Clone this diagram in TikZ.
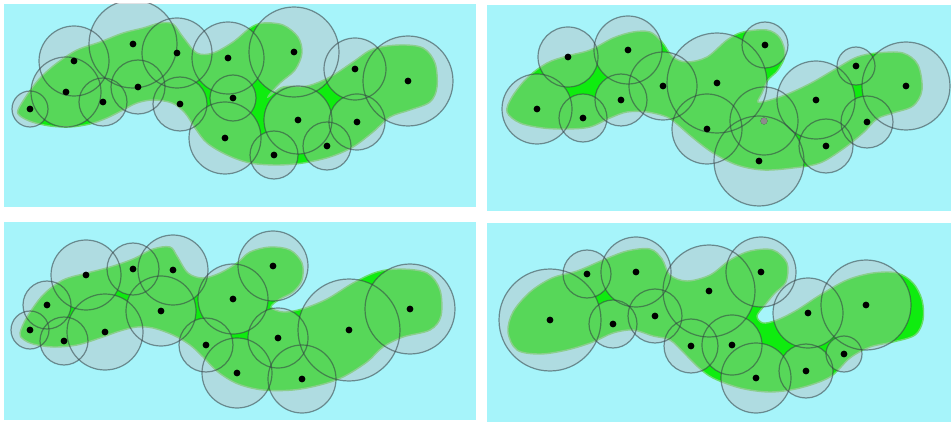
\documentclass[tikz,border=0pt]{standalone}
\usepackage{tikz}

\definecolor{sky}{RGB}{166,244,250}
\definecolor{blobgreen}{RGB}{15,236,15}
\definecolor{blobedge}{RGB}{105,220,105}
\definecolor{ballgray}{RGB}{188,188,192}
\definecolor{ballrim}{RGB}{50,62,66}

% one panel: corner, corner, skin outline, balls x/y/r
\newcommand{\molpanel}[4]{%
  \begin{scope}
    \clip #1 rectangle #2;
    \fill[panel] #1 rectangle #2;
    \draw[blob] plot[smooth cycle,tension=0.55] coordinates {#3};
    \begin{scope}[transparency group,opacity=0.42]
      \foreach \cx/\cy/\cr in {#4} \fill[ballgray] (\cx,\cy) circle[radius=\cr pt];
    \end{scope}
    \foreach \cx/\cy/\cr in {#4} \draw[ballrim] (\cx,\cy) circle[radius=\cr pt];
    \foreach \cx/\cy/\cr in {#4} \fill[atom] (\cx,\cy) circle[radius=3.4pt];
  \end{scope}}

\begin{document}
\begin{tikzpicture}[
  x=1pt,y=-1pt,
  panel/.style={fill=sky},
  blob/.style={fill=blobgreen,draw=blobedge,line width=1.4pt},
  ballrim/.style={draw=ballrim,line width=1.2pt,draw opacity=0.55},
  atom/.style={fill=black},
]
\useasboundingbox[fill=white] (0,0) rectangle (951,422);

% top left
\molpanel{(4,4)}{(476,207)}
  {(18,110) (27,95) (40,78) (57,63) (77,50) (100,42) (123,33) (143,28) (160,23)
   (173,24) (183,37) (197,53) (213,53) (233,42) (250,28) (263,23) (283,25)
   (298,37) (302,53) (295,70) (280,83) (268,97) (283,87) (307,86) (330,77)
   (353,62) (373,49) (400,45) (423,48) (435,63) (437,87) (430,102) (410,110)
   (390,117) (373,132) (353,147) (330,157) (303,163) (277,165) (250,163)
   (227,155) (207,143) (195,128) (185,113) (172,103) (153,100) (137,103)
   (123,110) (107,118) (90,124) (70,127) (50,126) (32,122) (20,116)}
  {30/109/18, 74/61/35, 66/92/35, 103/102/24, 133/44/44, 138/87/27, 177/53/35,
   180/104/27, 228/58/36, 233/98/23, 225/138/36, 294/52/45, 274/155/24,
   298/120/34, 355/69/31, 357/122/28, 327/146/24, 408/81/45}

% top right
\molpanel{(487,5)}{(951,211)}
  {(507,112) (512,97) (527,78) (547,63) (567,56) (590,50) (613,38) (633,32)
   (650,32) (662,42) (673,57) (687,62) (707,57) (727,40) (743,32) (767,30)
   (780,38) (785,55) (778,70) (768,80) (762,93) (758,102) (770,100) (790,93)
   (813,82) (837,68) (857,57) (877,53) (903,53) (918,65) (922,90) (913,106)
   (893,113) (877,119) (863,133) (843,149) (820,163) (793,168) (763,170)
   (737,165) (713,153) (693,138) (678,125) (667,117) (647,112) (627,112)
   (610,118) (590,127) (567,129) (543,128) (520,123)}
  {537/109/35, 568/57/30, 583/118/24, 628/50/34, 621/100/26, 663/86/34,
   717/83/50, 765/45/23, 707/129/35, 764/121/34, 759/161/45, 816/100/39,
   826/146/27, 856/66/19, 867/122/26, 906/86/44}
\fill[atom,black!45] (764,121) circle[radius=3.4pt];

% bottom left
\molpanel{(4,222)}{(476,420)}
  {(20,333) (27,317) (43,295) (63,280) (87,273) (110,267) (133,259) (153,249)
   (170,247) (177,256) (188,273) (203,278) (220,273) (237,263) (250,252)
   (270,247) (290,250) (302,263) (302,280) (293,292) (280,299) (271,307)
   (283,312) (302,309) (327,299) (353,283) (377,272) (400,269) (427,273)
   (440,290) (441,316) (430,330) (403,337) (383,347) (367,362) (343,377)
   (320,385) (293,390) (263,390) (238,384) (218,372) (203,357) (190,345)
   (173,335) (153,328) (137,327) (120,331) (100,338) (77,345) (53,347)
   (33,344) (23,339)}
  {30/330/19, 47/305/24, 64/341/24, 86/275/35, 105/332/38, 133/269/26,
   173/270/35, 161/311/35, 206/345/27, 233/299/35, 273/266/35, 237/373/35,
   278/338/30, 302/379/34, 349/330/51, 410/309/45}

% bottom right
\molpanel{(487,223)}{(951,422)}
  {(508,332) (513,312) (530,292) (552,278) (577,271) (603,260) (627,251)
   (650,249) (662,259) (670,275) (687,281) (710,275) (730,260) (750,251)
   (773,250) (787,263) (786,282) (775,293) (765,305) (757,316) (763,323)
   (777,320) (797,310) (820,295) (847,280) (873,273) (897,273) (913,283)
   (922,300) (923,320) (915,335) (893,342) (870,347) (850,358) (830,377)
   (800,388) (770,392) (740,388) (713,378) (698,367) (685,354) (670,340)
   (653,336) (633,330) (613,333) (593,342) (567,350) (540,354) (517,350)}
  {550/320/51, 587/274/24, 636/272/35, 613/324/24, 655/316/27, 709/291/46,
   761/272/35, 691/346/27, 732/345/30, 756/378/35, 808/313/35, 806/371/27,
   844/354/18, 866/305/45}

\end{tikzpicture}
\end{document}
